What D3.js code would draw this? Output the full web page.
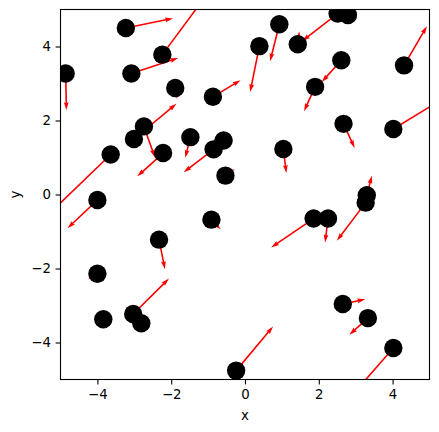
<!DOCTYPE html>
<html>
<head>
<meta charset="utf-8">
<script src="https://cdn.jsdelivr.net/npm/d3@7"></script>
<style>
  body { margin: 0; background: #fff; }
  text { font-family: "DejaVu Sans", sans-serif; }
</style>
</head>
<body>
<div class="chart"></div>
<script>
// Point positions
const xs = [-4.86, -3.23, -2.24, -3.08, -1.89, -0.87, -2.74, -3.01, -2.22, -3.64,
            -1.48, -0.58, -0.85, -0.53, -4.00, -2.33, -0.91, -4.00, -3.84, -3.03,
            -2.81, -0.24, 2.65, 3.33, 4.02, 1.86, 2.25, 3.30, 3.27, 2.67,
            4.02, 1.04, 0.93, 0.39, 1.43, 2.51, 2.79, 2.61, 1.90, 4.31];
const ys = [3.27, 4.50, 3.78, 3.27, 2.88, 2.64, 1.84, 1.50, 1.12, 1.08,
            1.55, 1.46, 1.22, 0.51, -0.15, -1.22, -0.68, -2.14, -3.37, -3.23,
            -3.48, -4.76, -2.96, -3.34, -4.15, -0.65, -0.65, -0.02, -0.22, 1.91,
            1.77, 1.23, 4.60, 4.01, 4.06, 4.89, 4.85, 3.63, 2.91, 3.49];
// Vector components (tip minus tail)
const us = [0.02, 1.28, 1.24, 1.27, 0.05, 0.75, 0.30, 1.15, -0.70, -1.56,
            -0.14, -0.28, -0.81, 0.25, -0.81, 0.16, 0.25, -0.25, -0.06, 0.97,
            0.05, 1.00, 0.61, -0.50, -0.92, -1.15, -0.08, 0.14, -0.78, 0.30,
            1.28, 0.08, -0.25, -0.25, 0.04, -0.96, -0.05, -0.53, -0.30, 0.62];
const vs = [-0.99, 0.26, 1.67, 0.42, -0.30, 0.45, -0.84, 0.95, -0.63, -1.50,
            -0.56, 0.04, -0.62, 0.18, -0.76, -0.80, -0.26, -0.15, -0.03, 0.96,
            0.04, 1.19, 0.13, -0.45, -1.05, -0.78, -0.65, 0.53, -1.03, -0.65,
            0.78, -0.65, -1.00, -1.24, 0.35, -0.74, -0.03, -0.59, -0.66, 1.06];
const tickVals = [-4, -2, 0, 2, 4];

const points = xs.map((x, i) => ({x: x, y: ys[i], u: us[i], v: vs[i]}));

// Dimensions
const margin = {top: 9.5, left: 60.5};
const width = 369;
const height = 370;

const xScale = d3.scaleLinear().domain([-5, 5]).range([0, width]);
const yScale = d3.scaleLinear().domain([-5, 5]).range([height, 0]);

const svg = d3.select('.chart')
  .append('svg')
  .attr('width', 439)
  .attr('height', 432);

const g = svg.append('g')
  .attr('transform', `translate(${margin.left}, ${margin.top})`);

g.append('clipPath')
  .attr('id', 'plot-clip')
  .append('rect')
  .attr('width', width)
  .attr('height', height);

const plot = g.append('g').attr('clip-path', 'url(#plot-clip)');

// Arrow polygon, quiver style
const shaftW = 1.6;
function arrowPath(d) {
  const x0 = xScale(d.x), y0 = yScale(d.y);
  const x1 = xScale(d.x + d.u), y1 = yScale(d.y + d.v);
  const len = Math.hypot(x1 - x0, y1 - y0);
  const ux = (x1 - x0) / len, uy = (y1 - y0) / len;
  const nx = -uy, ny = ux;
  const hl = Math.min(5 * shaftW, len), ha = Math.min(4.5 * shaftW, len);
  const hw = 1.5 * shaftW, sw = shaftW / 2;
  const p = (a, b) => [x0 + ux * a + nx * b, y0 + uy * a + ny * b];
  const pts = [
    p(0, sw), p(len - ha, sw), p(len - hl, hw), p(len, 0),
    p(len - hl, -hw), p(len - ha, -sw), p(0, -sw)
  ];
  return 'M' + pts.map(q => q.join(',')).join('L') + 'Z';
}

plot.append('g')
  .selectAll('path')
  .data(points)
  .enter()
  .append('path')
  .attr('d', arrowPath)
  .attr('fill', 'red');

plot.append('g')
  .selectAll('circle')
  .data(points)
  .enter()
  .append('circle')
  .attr('cx', d => xScale(d.x))
  .attr('cy', d => yScale(d.y))
  .attr('r', 9.2)
  .attr('fill', 'black');

// Axes
const fmt = d => d3.format('d')(d);
const xAxis = d3.axisBottom(xScale).tickValues(tickVals).tickFormat(fmt)
  .tickSizeOuter(0).tickSize(4.9).tickPadding(4.7);
const yAxis = d3.axisLeft(yScale).tickValues(tickVals).tickFormat(fmt)
  .tickSizeOuter(0).tickSize(4.9).tickPadding(4.7);

const xg = g.append('g').attr('transform', `translate(0, ${height})`).call(xAxis);
const yg = g.append('g').call(yAxis);
[xg, yg].forEach(a => {
  a.select('.domain').remove();
  a.selectAll('.tick line').attr('stroke', 'black').attr('stroke-width', 1.1);
  a.selectAll('.tick text').attr('fill', 'black')
    .style('font-size', '13.3px').style('font-family', '"DejaVu Sans", sans-serif');
});

// Frame
g.append('rect')
  .attr('width', width)
  .attr('height', height)
  .attr('fill', 'none')
  .attr('stroke', 'black')
  .attr('stroke-width', 1.1);

// Axis labels
svg.append('text')
  .attr('x', margin.left + width / 2)
  .attr('y', 420)
  .attr('text-anchor', 'middle')
  .style('font-size', '13.3px')
  .text('x');

svg.append('text')
  .attr('transform', `translate(20, ${margin.top + height / 2}) rotate(-90)`)
  .attr('text-anchor', 'middle')
  .style('font-size', '13.3px')
  .text('y');
</script>
</body>
</html>
